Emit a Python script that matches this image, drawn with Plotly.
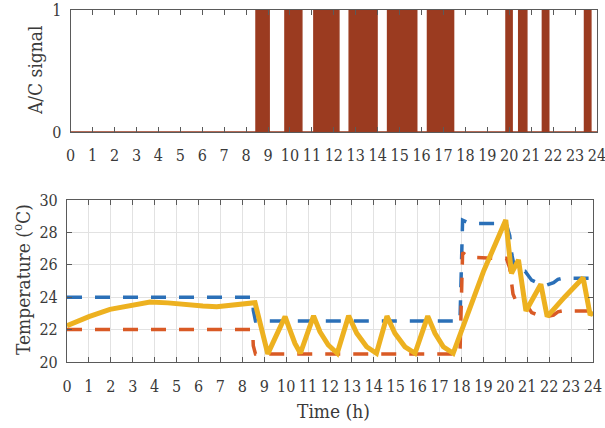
import plotly.graph_objects as go

# ---- A/C on/off switching (hours, signal level) ----
ac_time = [0, 8.45, 9.05, 9.77, 10.54, 11.09, 12.23, 12.70, 13.97, 14.45, 15.78,
           16.27, 17.46, 19.85, 20.13, 20.43, 20.80, 21.51, 21.80, 23.43, 23.72, 24]
ac_signal = [0, 1, 0, 1, 0, 1, 0, 1, 0, 1, 0,
             1, 0, 1, 0, 1, 0, 1, 0, 1, 0, 0]

# ---- Upper comfort bound (°C) ----
upper_time = [0, 8.47, 8.5, 8.6, 17.93, 17.98, 18.05, 18.3, 18.6, 19.5, 20.05, 20.2, 20.3,
              20.45, 20.9, 21.2, 21.6, 21.9, 22.2, 22.4, 22.6, 24]
upper_temp = [24, 24, 23.2, 22.53, 22.53, 26.0, 28.75, 28.6, 28.55, 28.55, 28.5, 27.8, 26.6,
              25.65, 25.6, 25.05, 24.8, 24.75, 24.9, 25.1, 25.17, 25.17]

# ---- Lower comfort bound (°C) ----
lower_time = [0, 8.47, 8.5, 8.6, 17.93, 17.98, 18.05, 18.3, 18.6, 19.5, 20.05, 20.2, 20.35,
              20.5, 20.9, 21.2, 21.6, 21.9, 22.2, 22.4, 22.6, 24]
lower_temp = [22, 22, 21.0, 20.5, 20.5, 23.5, 26.75, 26.5, 26.45, 26.4, 26.4, 25.8, 24.2,
              23.7, 23.65, 23.05, 22.85, 22.8, 22.9, 23.1, 23.15, 23.15]

# ---- Indoor temperature (°C) ----
room_time = [0, 1.0, 1.96, 3.0, 3.79, 4.6, 5.46, 6.2, 6.83, 7.7, 8.58, 9.16, 9.95, 10.17,
             10.40, 10.65, 11.25, 11.54, 11.92, 12.33, 12.85, 13.22, 13.67, 14.12, 14.6,
             14.96, 15.42, 15.88, 16.46, 16.79, 17.17, 17.62, 18.38, 19.0, 20.02, 20.28,
             20.6, 20.94, 21.62, 21.91, 22.7, 23.55, 23.87, 24]
room_temp = [22.24, 22.8, 23.25, 23.55, 23.7, 23.65, 23.52, 23.45, 23.41, 23.5, 23.66, 20.5,
             22.8, 21.98, 21.15, 20.54, 22.85, 21.87, 21.05, 20.54, 22.85, 21.77, 20.94,
             20.54, 22.83, 21.77, 20.94, 20.54, 22.83, 21.77, 20.94, 20.54, 23.4, 25.58,
             28.77, 25.47, 26.3, 23.15, 24.8, 22.8, 24.0, 25.2, 22.9, 23.1]

hour_ticks = list(range(0, 25))
temp_ticks = [20, 22, 24, 26, 28, 30]

FONT = "DejaVu Serif Condensed, DejaVu Serif, serif"
TEXT = "#3a3a3a"
FRAME = "#5a5a5a"
AC_COLOR = "#9b3b20"
BLUE = "#2b70b8"
ORANGE = "#d95a25"
YELLOW = "#edb120"

W, H = 605, 428

fig = go.Figure()

# A/C signal as a filled step trace
fig.add_trace(go.Scatter(
    x=ac_time, y=ac_signal, mode="lines", line=dict(shape="hv", color=AC_COLOR, width=1.5),
    fill="tozeroy", fillcolor=AC_COLOR, xaxis="x", yaxis="y", showlegend=False))

dash = "15px,13px"
fig.add_trace(go.Scatter(
    x=upper_time, y=upper_temp, mode="lines", line=dict(color=BLUE, width=3.5, dash=dash),
    xaxis="x2", yaxis="y2", showlegend=False))
fig.add_trace(go.Scatter(
    x=lower_time, y=lower_temp, mode="lines", line=dict(color=ORANGE, width=3.5, dash=dash),
    xaxis="x2", yaxis="y2", showlegend=False))
fig.add_trace(go.Scatter(
    x=room_time, y=room_temp, mode="lines", line=dict(color=YELLOW, width=5),
    xaxis="x2", yaxis="y2", showlegend=False))

tick_font = dict(family=FONT, size=16, color=TEXT)
title_font = dict(family=FONT, size=19, color=TEXT)

common_axis = dict(
    showline=True, linecolor=FRAME, linewidth=1.2, mirror="ticks",
    ticks="inside", ticklen=5, tickcolor=FRAME, tickwidth=1,
    tickfont=tick_font, zeroline=False, automargin=False, ticklabeloverflow="allow",
)

fig.update_layout(
    width=W, height=H,
    margin=dict(l=0, r=0, t=0, b=0, autoexpand=False),
    paper_bgcolor="white", plot_bgcolor="white",
    font=dict(family=FONT, color=TEXT),
    xaxis=dict(common_axis, domain=[70.7 / W, 597 / W], range=[0, 24], tickangle=0,
               tickvals=hour_ticks, showgrid=False, anchor="y", ticklabelstandoff=9),
    yaxis=dict(common_axis, domain=[1 - 132 / H, 1 - 10 / H], range=[0, 1],
               tickvals=[0, 1], showgrid=False, anchor="x", ticklabelstandoff=5),
    xaxis2=dict(common_axis, domain=[67 / W, 593 / W], range=[0, 24], tickangle=0,
                tickvals=hour_ticks, showgrid=True, gridcolor="#e2e2e2", gridwidth=1,
                anchor="y2", ticklabelstandoff=10),
    yaxis2=dict(common_axis, domain=[1 - 362 / H, 1 - 200 / H], range=[20, 30],
                tickvals=temp_ticks, showgrid=True, gridcolor="#e2e2e2", gridwidth=1,
                anchor="x2", ticklabelstandoff=5),
    annotations=[
        dict(text="A/C signal", xref="paper", yref="paper", x=35 / W, y=1 - 71 / H,
             textangle=-90, showarrow=False, font=title_font,
             xanchor="center", yanchor="middle"),
        dict(text="Temperature (<sup>o</sup>C)", xref="paper", yref="paper",
             x=22 / W, y=1 - 280 / H, textangle=-90, showarrow=False,
             font=title_font, xanchor="center", yanchor="middle"),
        dict(text="Time (h)", xref="paper", yref="paper", x=333 / W, y=1 - 411 / H,
             showarrow=False, font=title_font, xanchor="center", yanchor="middle"),
    ],
)

fig.write_html("out.html")
